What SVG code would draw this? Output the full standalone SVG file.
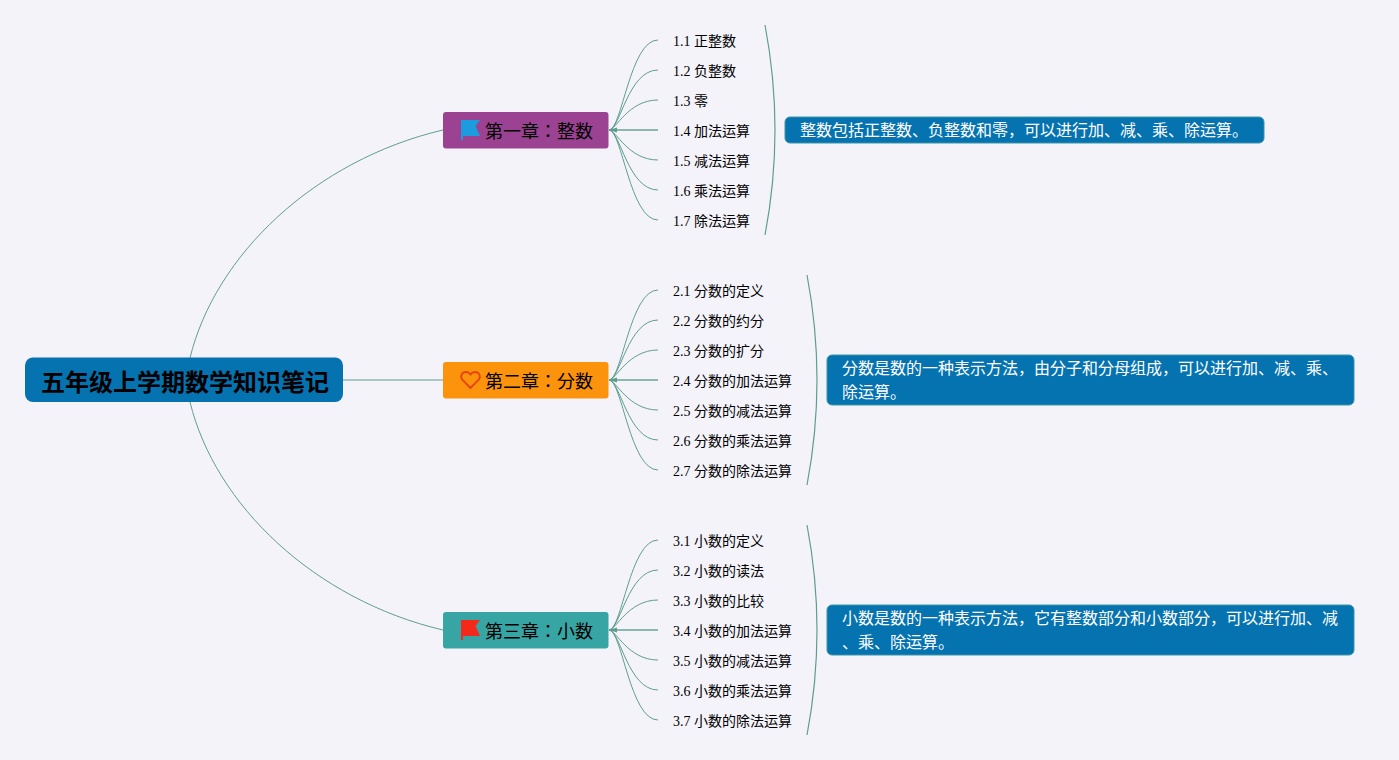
<svg xmlns="http://www.w3.org/2000/svg" width="1399" height="760" viewBox="0 0 1399 760">
<style>
text{font-family:"Liberation Serif","Noto Sans CJK JP",serif;fill:#000}
.l{font-size:14px}
.c{font-size:18px}
.t{font-size:24px;font-weight:bold}
.s{font-size:16px;fill:#fff}
.n{fill:#0673b1;stroke:#3b95a5;stroke-width:1}
.w{fill:none;stroke:#5f9e8f;stroke-width:1}
.b{fill:none;stroke:#5f9e8f;stroke-width:1.2}
</style>
<defs>
<path id="flag" d="M0 0H19L14.500 6L19 16H2V20H0Z"/>
<g id="kids" class="w">
<path d="M609 130C622 130 630 40 658 40"/>
<path d="M609 130C620 130 628 70 658 70"/>
<path d="M609 130C616 130 628 100 658 100"/>
<path d="M609 130H658" stroke-width="1.800" stroke-opacity=".7"/>
<path d="M609 130C616 130 628 160 658 160"/>
<path d="M609 130C620 130 628 190 658 190"/>
<path d="M609 130C622 130 630 220 658 220"/>
<path d="M609 130L617 127.500V132.500Z" fill="#5f9e8f" stroke="none"/>
</g>
</defs>
<rect width="1399" height="760" fill="#f4f3fa"/>
<g id="connectors">
<path class="w" d="M190 358C215 255 315 160 443 130"/>
<path class="w" d="M343 380H443"/>
<path class="w" d="M190 402C215 505 315 600 443 630"/>
<use href="#kids"/>
<use href="#kids" y="250"/>
<use href="#kids" y="500"/>
<path class="b" d="M765 25Q785 130 765 235"/>
<path class="b" d="M807 275Q827 380 807 485"/>
<path class="b" d="M807 525Q827 630 807 735"/>
</g>
<g id="root"><rect x="25" y="357.500" width="318" height="44.500" rx="8" fill="#0673b1"/><text class="t" x="41" y="390.500">五年级上学期数学知识笔记</text></g>
<g id="ch1"><rect x="443" y="112" width="165.500" height="36.500" rx="3" fill="#9c4293"/><use href="#flag" x="461" y="120" fill="#1a9cde"/><text class="c" x="485" y="138">第一章：整数</text></g>
<g id="ch2"><rect x="443" y="362" width="165.500" height="36.500" rx="3" fill="#fb930c"/><path d="M470.500 388L462.500 380C459.500 376.500 462 372 466 372C468 372 469.500 373 470.500 374.500C471.500 373 473 372 475 372C479 372 481.500 376.500 478.500 380Z" fill="none" stroke="#e8420f" stroke-width="1.800"/><text class="c" x="485" y="388">第二章：分数</text></g>
<g id="ch3"><rect x="443" y="612" width="165.500" height="36.500" rx="3" fill="#37a5a4"/><use href="#flag" x="461" y="620" fill="#f5291a"/><text class="c" x="485" y="638">第三章：小数</text></g>
<g id="n11"><text class="l" x="673" y="46">1.1 正整数</text></g>
<g id="n12"><text class="l" x="673" y="76">1.2 负整数</text></g>
<g id="n13"><text class="l" x="673" y="106">1.3 零</text></g>
<g id="n14"><text class="l" x="673" y="136">1.4 加法运算</text></g>
<g id="n15"><text class="l" x="673" y="166">1.5 减法运算</text></g>
<g id="n16"><text class="l" x="673" y="196">1.6 乘法运算</text></g>
<g id="n17"><text class="l" x="673" y="226">1.7 除法运算</text></g>
<g id="n21"><text class="l" x="673" y="296">2.1 分数的定义</text></g>
<g id="n22"><text class="l" x="673" y="326">2.2 分数的约分</text></g>
<g id="n23"><text class="l" x="673" y="356">2.3 分数的扩分</text></g>
<g id="n24"><text class="l" x="673" y="386">2.4 分数的加法运算</text></g>
<g id="n25"><text class="l" x="673" y="416">2.5 分数的减法运算</text></g>
<g id="n26"><text class="l" x="673" y="446">2.6 分数的乘法运算</text></g>
<g id="n27"><text class="l" x="673" y="476">2.7 分数的除法运算</text></g>
<g id="n31"><text class="l" x="673" y="546">3.1 小数的定义</text></g>
<g id="n32"><text class="l" x="673" y="576">3.2 小数的读法</text></g>
<g id="n33"><text class="l" x="673" y="606">3.3 小数的比较</text></g>
<g id="n34"><text class="l" x="673" y="636">3.4 小数的加法运算</text></g>
<g id="n35"><text class="l" x="673" y="666">3.5 小数的减法运算</text></g>
<g id="n36"><text class="l" x="673" y="696">3.6 小数的乘法运算</text></g>
<g id="n37"><text class="l" x="673" y="726">3.7 小数的除法运算</text></g>
<g id="s1"><rect class="n" x="785" y="117" width="479" height="26" rx="5"/><text class="s" x="800" y="136">整数包括正整数、负整数和零，可以进行加、减、乘、除运算。</text></g>
<g id="s2"><rect class="n" x="827" y="355" width="527" height="50" rx="5"/><text class="s" x="842" y="374">分数是数的一种表示方法，由分子和分母组成，可以进行加、减、乘、</text><text class="s" x="842" y="398">除运算。</text></g>
<g id="s3"><rect class="n" x="827" y="605" width="527" height="50" rx="5"/><text class="s" x="842" y="624">小数是数的一种表示方法，它有整数部分和小数部分，可以进行加、减</text><text class="s" x="842" y="648">、乘、除运算。</text></g>
</svg>
